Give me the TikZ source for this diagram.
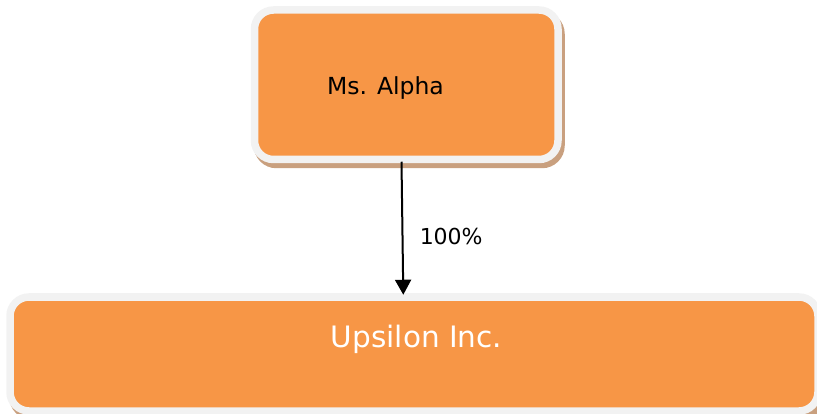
\documentclass[tikz,border=0pt]{standalone}
\usepackage{fontspec}
\setmainfont{DejaVu Sans}
\usetikzlibrary{arrows.meta}
\definecolor{boxorange}{HTML}{F79646}
\definecolor{boxrim}{HTML}{F2F2F2}
\definecolor{boxshadow}{HTML}{C9A07F}
\tikzset{
  orgbox/.style={draw=boxrim, fill=boxorange, line width=7.5pt, rounded corners=19pt,
    inner sep=0pt, rectangle,
    preaction={draw=boxshadow, fill=boxshadow, line width=7.5pt, rounded corners=19pt,
      transform canvas={xshift=3pt, yshift=-5pt}}},
  txt/.style={inner sep=0pt, anchor=base},
  owns/.style={line width=2pt, -{Triangle[width=16pt,length=15pt]}}
}
\begin{document}
\begin{tikzpicture}[x=1pt,y=-1pt]
\useasboundingbox (0,0) rectangle (817,414);
\clip (0,0) rectangle (817,414);
\node[orgbox, minimum width=303.5pt, minimum height=149.5pt] (alpha) at (406.25,84.75) {};
\node[orgbox, minimum width=808pt, minimum height=114pt] (upsilon) at (414,354) {};
\node[txt, font=\fontsize{23.5pt}{28pt}\selectfont, text=black] (alphaTxt) at (385.5,95) {Ms. Alpha};
\node[txt, font=\fontsize{29.5pt}{35pt}\selectfont, text=white] (upsilonTxt) at (416.5,347.3) {Upsilon Inc.};
\draw[owns] ([xshift=-4.75pt, yshift=1.5pt]alpha.south) -- ([xshift=-10.7pt, yshift=-1.5pt]upsilon.north);
\node[txt, font=\fontsize{22pt}{26pt}\selectfont] (pct) at (451.2,244.3) {100\%};
\end{tikzpicture}
\end{document}
